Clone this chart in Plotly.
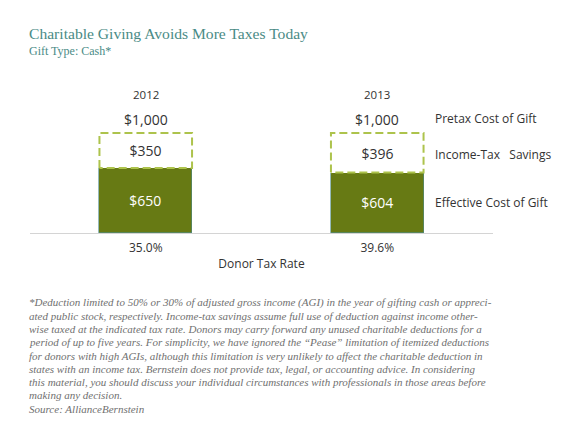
import plotly.graph_objects as go

years = ["2012", "2013"]
tax_rates = ["35.0%", "39.6%"]
pretax_cost = [1000, 1000]
tax_savings = [350, 396]
effective_cost = [650, 604]

note_lines = [
    "*Deduction limited to 50% or 30% of adjusted gross income (AGI) in the year of gifting cash or appreci-",
    "ated public stock, respectively. Income-tax savings assume full use of deduction against income other-",
    "wise taxed at the indicated tax rate. Donors may carry forward any unused charitable deductions for a",
    "period of up to five years. For simplicity, we have ignored the \u201cPease\u201d limitation of itemized deductions",
    "for donors with high AGIs, although this limitation is very unlikely to affect the charitable deduction in",
    "states with an income tax. Bernstein does not provide tax, legal, or accounting advice. In considering",
    "this material, you should discuss your individual circumstances with professionals in those areas before",
    "making any decision.",
    "Source: AllianceBernstein",
]

W, H = 580, 435
OFF = 8  # page body margin
x_pos = [0, 1]
bar_w = 0.4

GREEN = "#677a14"
DASH = "#adc34c"
TEAL = "#4a8b86"
TXT = "#333333"
SANS = "Open Sans, Noto Sans, sans-serif"
SERIF = "Liberation Serif, Times New Roman, serif"


def px(x):
    return (x - OFF) / W


def py(y):
    return 1 - (y - OFF) / H


fig = go.Figure()

fig.add_trace(go.Bar(
    x=x_pos, y=effective_cost, width=bar_w,
    marker=dict(color=GREEN, line=dict(width=0.6, color="#4f8c8c")),
    text=["$%d" % v for v in effective_cost],
    textposition="inside", insidetextanchor="middle",
    textfont=dict(family=SANS, size=14, color="white"),
    hoverinfo="skip",
))
fig.add_trace(go.Bar(
    x=x_pos, y=tax_savings, width=bar_w,
    marker=dict(color="white", line=dict(width=0)),
    text=["$%d" % v for v in tax_savings],
    textposition="inside", insidetextanchor="middle",
    textfont=dict(family=SANS, size=14, color=TXT),
    hoverinfo="skip",
))

# dashed outline around the savings part
for x, lo, hi in zip(x_pos, effective_cost, pretax_cost):
    x0, x1 = x - bar_w / 2, x + bar_w / 2
    fig.add_trace(go.Scatter(
        x=[x0, x0, x1, x1, x0], y=[lo, hi, hi, lo, lo],
        mode="lines", line=dict(color=DASH, width=2, dash="8px,4px"),
        hoverinfo="skip",
    ))

for x, yr, tot in zip(x_pos, years, pretax_cost):
    fig.add_annotation(x=x, y=1380, text=yr, showarrow=False,
                       font=dict(family=SANS, size=11.5, color=TXT))
    fig.add_annotation(x=x, y=tot, yanchor="bottom", yshift=2,
                       text="${:,}".format(tot), showarrow=False,
                       font=dict(family=SANS, size=14, color=TXT))

lab_x = px(433)
fig.add_annotation(xref="paper", x=lab_x, xanchor="left", y=pretax_cost[1],
                   yanchor="bottom", yshift=4, text="Pretax Cost of Gift",
                   showarrow=False, font=dict(family=SANS, size=12, color=TXT))
fig.add_annotation(xref="paper", x=lab_x, xanchor="left",
                   y=effective_cost[1] + tax_savings[1] / 2 - 20,
                   text="Income-Tax\u00a0\u00a0 Savings",
                   showarrow=False, font=dict(family=SANS, size=12, color=TXT))
fig.add_annotation(xref="paper", x=lab_x, xanchor="left",
                   y=effective_cost[1] / 2,
                   text="Effective Cost of Gift",
                   showarrow=False, font=dict(family=SANS, size=12, color=TXT))

fig.add_annotation(xref="paper", yref="paper", x=px(27), y=py(33),
                   xanchor="left", yanchor="middle", showarrow=False,
                   text="Charitable Giving Avoids More Taxes Today",
                   font=dict(family=SERIF, size=15.6, color=TEAL))
fig.add_annotation(xref="paper", yref="paper", x=px(27), y=py(51),
                   xanchor="left", yanchor="middle", showarrow=False,
                   text="Gift Type: Cash*",
                   font=dict(family=SERIF, size=12, color=TEAL))

for i, line in enumerate(note_lines):
    fig.add_annotation(xref="paper", yref="paper", x=px(27), y=py(302.5 + i * 13.25),
                       xanchor="left", yanchor="middle", showarrow=False,
                       text="<i>" + line + "</i>",
                       font=dict(family=SERIF, size=11, color="#707070"))

fig.update_layout(
    width=W, height=H, margin=dict(l=0, r=0, t=0, b=0),
    paper_bgcolor="white", plot_bgcolor="white",
    barmode="stack", bargap=0, showlegend=False,
    xaxis=dict(domain=[px(30), px(493)], range=[-0.5, 1.5],
               tickvals=x_pos, ticktext=tax_rates, ticks="",
               ticklabelstandoff=4,
               showgrid=False, zeroline=False,
               showline=True, linecolor="#d4d4d4", linewidth=1,
               tickfont=dict(family=SANS, size=12, color=TXT),
               title=dict(text="Donor Tax Rate", standoff=4,
                          font=dict(family=SANS, size=12, color=TXT))),
    yaxis=dict(domain=[py(233), py(93)], range=[0, 1400],
               visible=False, showgrid=False, zeroline=False),
)

fig.write_html("out.html")
